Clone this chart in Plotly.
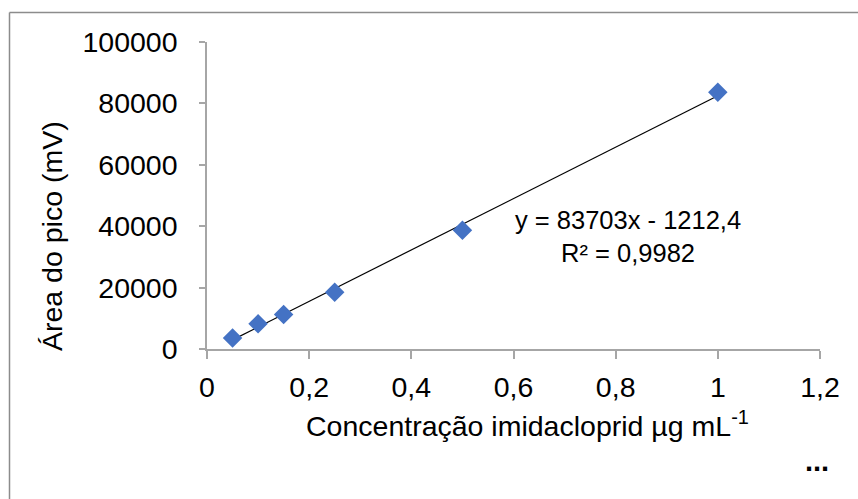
import plotly.graph_objects as go

conc = [0.05, 0.1, 0.15, 0.25, 0.5, 1.0]
area = [3600, 8200, 11200, 18500, 38700, 83600]
slope = 83703
intercept = -1212.4
fit_x = [0.05, 1.0]
fit_y = [slope * v + intercept for v in fit_x]
x_ticks = [0, 0.2, 0.4, 0.6, 0.8, 1.0, 1.2]
x_tick_text = ["0", "0,2", "0,4", "0,6", "0,8", "1", "1,2"]
y_ticks = [0, 20000, 40000, 60000, 80000, 100000]
y_tick_text = ["0", "20000", "40000", "60000", "80000", "100000"]

FONT = "Liberation Sans, Arial, sans-serif"
AX = "#a6a6a6"
FS = 28.5

fig = go.Figure()
fig.add_trace(go.Scatter(x=fit_x, y=fit_y, mode="lines",
                         line=dict(color="black", width=1.2), showlegend=False))
fig.add_trace(go.Scatter(x=conc, y=area, mode="markers",
                         marker=dict(symbol="diamond", size=15, color="#4472C4",
                                     line=dict(width=0)), showlegend=False))

L, R, T, B = 207, 38, 42, 150
W, H = 858, 499
pw, ph = W - L - R, H - T - B

def px_x(p):
    return (p - L) / pw

def px_y(p):
    return (H - B - p) / ph

fig.update_layout(
    width=W, height=H,
    margin=dict(l=L, r=R, t=T, b=B),
    paper_bgcolor="white", plot_bgcolor="white",
    font=dict(family=FONT, size=FS, color="black"),
    xaxis=dict(range=[0, 1.2], tickvals=x_ticks, ticktext=x_tick_text,
               showgrid=False, zeroline=False, showline=True, linecolor=AX, linewidth=1.5,
               ticks="outside", ticklen=8, tickcolor=AX, tickwidth=1.5,
               ticklabelstandoff=4,
               tickfont=dict(size=FS, family=FONT, color="black")),
    yaxis=dict(range=[0, 100000], tickvals=y_ticks, ticktext=y_tick_text,
               showgrid=False, zeroline=False, showline=True, linecolor=AX, linewidth=1.5,
               ticks="outside", ticklen=6, tickcolor=AX, tickwidth=1.5,
               ticklabelstandoff=16,
               tickfont=dict(size=FS, family=FONT, color="black")),
    shapes=[
        dict(type="line", xref="paper", yref="paper", x0=px_x(9.5), x1=px_x(900),
             y0=px_y(12.5), y1=px_y(12.5), line=dict(color="#8c8c8c", width=1.5)),
        dict(type="line", xref="paper", yref="paper", x0=px_x(9.5), x1=px_x(9.5),
             y0=px_y(12.5), y1=px_y(560), line=dict(color="#8c8c8c", width=1.5)),
    ],
    annotations=[
        dict(xref="paper", yref="paper", x=px_x(527), y=px_y(424), xanchor="center",
             yanchor="middle", showarrow=False,
             text="Concentração imidacloprid µg mL<sup>-1</sup>",
             font=dict(size=FS, family=FONT)),
        dict(xref="paper", yref="paper", x=px_x(52), y=px_y(236), xanchor="center",
             yanchor="middle", showarrow=False, textangle=-90,
             text="Área do pico (mV)", font=dict(size=FS, family=FONT)),
        dict(xref="paper", yref="paper", x=px_x(628), y=px_y(236), xanchor="center",
             yanchor="middle", showarrow=False, align="center",
             text="y = 83703x - 1212,4<br>R² = 0,9982", font=dict(size=25.5, family=FONT)),
        dict(xref="paper", yref="paper", x=px_x(817), y=px_y(461), xanchor="center",
             yanchor="middle", showarrow=False,
             text="<b>...</b>", font=dict(size=29, family=FONT)),
    ],
)

fig.write_html("out.html")
